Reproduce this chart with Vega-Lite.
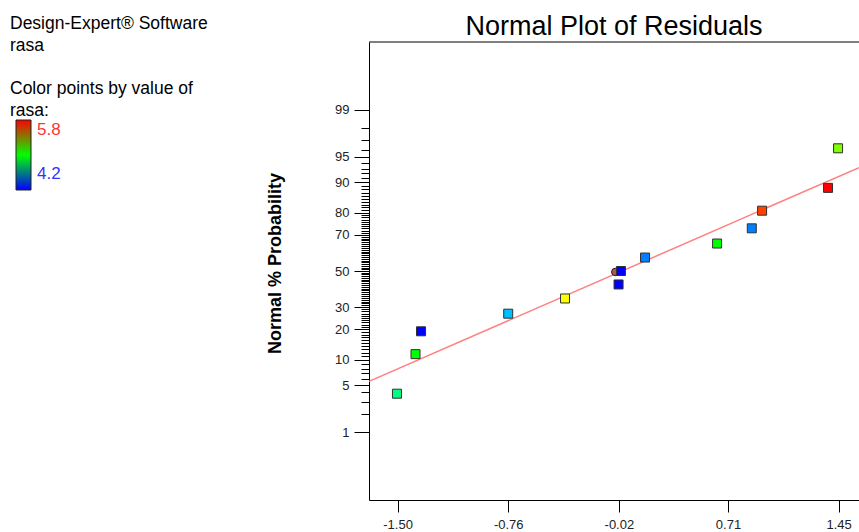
{
  "$schema": "https://vega.github.io/schema/vega-lite/v6.json",
  "width": 490,
  "height": 458,
  "autosize": {"type": "none"},
  "padding": {"left": 369, "top": 42, "right": 0, "bottom": 32},
  "background": "white",
  "config": {"view": {"stroke": null}, "font": "Liberation Sans"},
  "title": {"text": "Normal Plot of Residuals", "fontSize": 27, "fontWeight": "normal", "color": "black", "anchor": "middle", "offset": 6, "frame": "group", "dy": 32},
  "datasets": {
    "residuals": [
      {"residual": -1.504, "pct": 3.85, "z": -1.768, "rasa": 4.8},
      {"residual": -1.38, "pct": 11.54, "z": -1.198, "rasa": 5.0},
      {"residual": -1.343, "pct": 19.23, "z": -0.869, "rasa": 4.2},
      {"residual": -0.76, "pct": 26.92, "z": -0.615, "rasa": 4.5},
      {"residual": -0.38, "pct": 34.62, "z": -0.396, "rasa": 5.4},
      {"residual": -0.022, "pct": 42.31, "z": -0.194, "rasa": 4.2},
      {"residual": -0.006, "pct": 50.0, "z": 0.0, "rasa": 4.2},
      {"residual": 0.155, "pct": 57.69, "z": 0.194, "rasa": 4.4},
      {"residual": 0.637, "pct": 65.38, "z": 0.396, "rasa": 5.0},
      {"residual": 0.869, "pct": 73.08, "z": 0.615, "rasa": 4.4},
      {"residual": 0.938, "pct": 80.77, "z": 0.869, "rasa": 5.7},
      {"residual": 1.379, "pct": 88.46, "z": 1.198, "rasa": 5.8},
      {"residual": 1.446, "pct": 96.15, "z": 1.768, "rasa": 5.2}
    ],
    "fit": [
      {"residual": -1.691, "z": -1.591},
      {"residual": 1.586, "z": 1.49}
    ],
    "marker": [
      {"residual": -0.044, "z": -0.014}
    ],
    "frame": [
      {"edge": "top"}
    ]
  },
  "layer": [
    {
      "data": {"name": "frame"},
      "mark": {"type": "rule", "color": "black", "strokeWidth": 1},
      "encoding": {"y": {"datum": 3.3, "scale": {"domain": [-3.3, 3.3], "nice": false, "zero": false}}}
    },
    {
      "data": {"name": "fit"},
      "mark": {"type": "line", "color": "#ff8080", "strokeWidth": 1.5},
      "encoding": {
        "x": {"field": "residual", "type": "quantitative"},
        "y": {"field": "z", "type": "quantitative"}
      }
    },
    {
      "data": {"name": "marker"},
      "mark": {"type": "point", "shape": "circle", "filled": true, "size": 55, "fill": "#b45a5a", "stroke": "#301010", "strokeWidth": 1, "opacity": 1},
      "encoding": {
        "x": {"field": "residual", "type": "quantitative"},
        "y": {"field": "z", "type": "quantitative"}
      }
    },
    {
      "data": {"name": "residuals"},
      "mark": {"type": "point", "shape": "square", "filled": true, "size": 81, "stroke": "#303030", "strokeWidth": 1, "opacity": 1},
      "encoding": {
        "x": {
          "field": "residual", "type": "quantitative",
          "scale": {"domain": [-1.691, 1.586], "nice": false, "zero": false},
          "axis": {
            "title": null,
            "values": [-1.5, -0.76, -0.02, 0.71, 1.45],
            "tickCount": 20,
            "labelExpr": "replace(format(datum.value, '.2f'), '−', '-')",
            "tickSize": 12, "tickColor": "black", "domainColor": "black",
            "labelFontSize": 13, "labelColor": "#222222", "labelPadding": 6,
            "grid": false, "labelFlush": false, "labelOverlap": false
          }
        },
        "y": {
          "field": "z", "type": "quantitative",
          "scale": {"domain": [-3.3, 3.3], "nice": false, "zero": false},
          "axis": {
            "title": "Normal % Probability",
            "titleFontSize": 18, "titleFontWeight": "bold", "titleColor": "black", "titlePadding": 50, "titleY": 221,
            "values": [-2.3263,-2.0537,-1.8808,-1.7507,-1.6449,-1.5548,-1.4758,-1.4051,-1.3408,-1.2816,-1.2265,-1.175,-1.1264,-1.0803,-1.0364,-0.9945,-0.9542,-0.9154,-0.8779,-0.8416,-0.8064,-0.7722,-0.7388,-0.7063,-0.6745,-0.6433,-0.6128,-0.5828,-0.5534,-0.5244,-0.4959,-0.4677,-0.4399,-0.4125,-0.3853,-0.3585,-0.3319,-0.3055,-0.2793,-0.2533,-0.2275,-0.2019,-0.1764,-0.151,-0.1257,-0.1004,-0.0753,-0.0502,-0.0251,0,0.0251,0.0502,0.0753,0.1004,0.1257,0.151,0.1764,0.2019,0.2275,0.2533,0.2793,0.3055,0.3319,0.3585,0.3853,0.4125,0.4399,0.4677,0.4959,0.5244,0.5534,0.5828,0.6128,0.6433,0.6745,0.7063,0.7388,0.7722,0.8064,0.8416,0.8779,0.9154,0.9542,0.9945,1.0364,1.0803,1.1264,1.175,1.2265,1.2816,1.3408,1.4051,1.4758,1.5548,1.6449,1.7507,1.8808,2.0537,2.3263],
            "tickCount": 200,
            "labelExpr": "indexof([1,5,10,20,30,50,70,80,90,95,99], round(cumulativeNormal(datum.value)*100)) >= 0 ? '' + round(cumulativeNormal(datum.value)*100) : ''",
            "tickSize": {"condition": {"test": "indexof([1,5,10,20,30,50,70,80,90,95,99], round(cumulativeNormal(datum.value)*100)) >= 0", "value": 15}, "value": 8},
            "tickColor": "black", "domainColor": "black",
            "labelFontSize": 13, "labelColor": "#222222", "labelPadding": 5,
            "grid": false, "labelFlush": false, "labelOverlap": false
          }
        },
        "fill": {
          "field": "rasa", "type": "quantitative",
          "scale": {"domain": [4.2, 4.6, 5.0, 5.4, 5.8], "range": ["#0000ff", "#00ffff", "#00ff00", "#ffff00", "#ff0000"], "interpolate": "rgb"},
          "legend": {
            "type": "symbol",
            "orient": "none", "legendX": -359, "legendY": -27, "direction": "vertical",
            "title": ["Design-Expert® Software", "rasa"],
            "titleFontSize": 17.5, "titleFontWeight": "normal", "titleColor": "black", "titleLineHeight": 21.5, "titlePadding": 0, "titleLimit": 400,
            "values": [4.2],
            "symbolSize": 0, "symbolOpacity": 0, "symbolStrokeWidth": 0,
            "labelExpr": "''", "labelOpacity": 0
          }
        }
      }
    },
    {
      "data": {"name": "residuals"},
      "mark": {"type": "point", "shape": "square", "size": 0, "opacity": 0},
      "encoding": {
        "x": {"field": "residual", "type": "quantitative"},
        "y": {"field": "z", "type": "quantitative"},
        "stroke": {
          "field": "rasa", "type": "quantitative",
          "scale": {"domain": [4.2, 5.0, 5.8], "range": ["#0000ff", "#00ff00", "#ff0000"], "interpolate": "rgb"},
          "legend": {
            "orient": "none", "legendX": -359, "legendY": 38, "direction": "vertical",
            "title": ["Color points by value of", "rasa:"],
            "titleFontSize": 17.5, "titleFontWeight": "normal", "titleColor": "black", "titleLineHeight": 21.5, "titlePadding": 1, "titleLimit": 400,
            "values": [4.2, 5.8],
            "format": ".1f",
            "gradientLength": 70, "gradientThickness": 15, "gradientStrokeColor": "#222222", "gradientStrokeWidth": 1,
            "labelFontSize": 17, "labelOffset": 5,
            "encode": {
              "gradient": {"update": {"x": {"value": 6}}},
              "labels": {"update": {
                "x": {"value": 27},
                "y": {"signal": "datum.value > 5 ? 10 : 54"},
                "baseline": {"value": "middle"},
                "fill": {"signal": "datum.value > 5 ? '#ff3333' : '#3333ff'"}
              }}
            }
          }
        }
      }
    }
  ]
}
